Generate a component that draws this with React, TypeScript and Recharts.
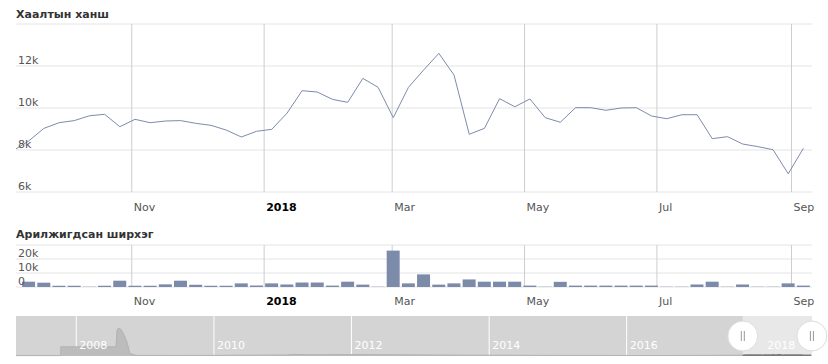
import {
  Area,
  AreaChart,
  Bar,
  BarChart,
  CartesianGrid,
  Line,
  LineChart,
  ReferenceArea,
  ReferenceDot,
  XAxis,
  YAxis,
} from 'recharts';

const DAY = 86_400_000;

// weekly data, week start (Monday)
const weekStarts = [
  '2017-09-04', '2017-09-11', '2017-09-18', '2017-09-25', '2017-10-02', '2017-10-09', '2017-10-16',
  '2017-10-23', '2017-10-30', '2017-11-06', '2017-11-13', '2017-11-20', '2017-11-27', '2017-12-04',
  '2017-12-11', '2017-12-18', '2017-12-25', '2018-01-01', '2018-01-08', '2018-01-15', '2018-01-22',
  '2018-01-29', '2018-02-05', '2018-02-12', '2018-02-19', '2018-02-26', '2018-03-05', '2018-03-12',
  '2018-03-19', '2018-03-26', '2018-04-02', '2018-04-09', '2018-04-16', '2018-04-23', '2018-04-30',
  '2018-05-07', '2018-05-14', '2018-05-21', '2018-05-28', '2018-06-04', '2018-06-11', '2018-06-18',
  '2018-06-25', '2018-07-02', '2018-07-09', '2018-07-16', '2018-07-23', '2018-07-30', '2018-08-06',
  '2018-08-13', '2018-08-20', '2018-08-27', '2018-09-03',
];

const closePrices = [
  7980, 8430, 9030, 9300, 9400, 9630, 9700, 9110, 9460, 9300, 9380, 9400, 9270, 9175, 8950, 8620,
  8890, 8985, 9750, 10825, 10760, 10410, 10270, 11410, 10985, 9540, 10985, 11810, 12600, 11570, 8750,
  9030, 10445, 10060, 10430, 9540, 9320, 10015, 10015, 9890, 10000, 10015, 9620, 9490, 9680, 9680,
  8540, 8635, 8285, 8160, 8015, 6870, 8080,
];

const volumes = [
  null, 3800, 3100, 900, 900, 200, 900, 4500, 900, 900, 1900, 4500, 1600, 900, 900, 2600, 1000, 2600,
  1800, 3200, 3200, 1000, 3800, 1700, 200, 26000, 2600, 9000, 1700, 2600, 5400, 3800, 3800, 3800,
  1000, 200, 3700, 1000, 1000, 1000, 1000, 1000, 1000, 200, 200, 1800, 3800, 200, 1800, 200, 200,
  2600, 1000,
];

const monthTicks = ['2017-11-01', '2018-01-01', '2018-03-01', '2018-05-01', '2018-07-01', '2018-09-01'];
const monthLabels = ['Nov', '2018', 'Mar', 'May', 'Jul', 'Sep'];

const priceTicks = [6000, 8000, 10000, 12000, 14000];
const priceLabels = ['6k', '8k', '10k', '12k', ''];
const volumeTicks = [0, 10000, 20000, 30000];
const volumeLabels = ['0', '10k', '20k', ''];

// full history shown in the scrollbar
const historyDates = [
  '2007-02-15', '2007-10-10', '2007-10-11', '2008-07-30', '2008-08-04', '2008-08-12', '2008-08-25',
  '2008-09-10', '2008-09-26', '2008-10-12', '2008-11-15', '2009-06-01', '2010-01-01', '2010-06-01',
  '2011-01-15', '2011-03-01', '2011-06-01', '2011-12-01', '2012-06-01', '2013-01-01', '2013-06-01',
  '2014-01-01', '2015-01-01', '2016-01-01', '2016-09-01', '2017-01-01', '2017-06-01', '2017-09-08',
];
const historyValues = [
  4000, 4000, 92000, 92000, 255000, 280000, 268000, 215000, 140000, 25000, 6000, 5000, 6000, 8000,
  10000, 16000, 12000, 14000, 13000, 11000, 9000, 8000, 6000, 5000, 5000, 6000, 7000, 8000,
];

const yearTicks = ['2008-01-01', '2010-01-01', '2012-01-01', '2014-01-01', '2016-01-01', '2018-01-01'];
const yearLabels = ['2008', '2010', '2012', '2014', '2016', '2018'];

const selection = ['2017-09-08T15:36:00Z', '2018-09-10T11:00:00Z'];
const scrollRange = ['2007-02-15', '2018-09-11'];

const weekRows = weekStarts.map((d, i) => ({
  t: Date.parse(d) + 3.5 * DAY,
  close: closePrices[i],
  volume: volumes[i],
}));
const historyRows = historyDates.map((d, i) => ({ t: Date.parse(d), v: historyValues[i] }));

const monthTs = monthTicks.map((d) => Date.parse(d));
const yearTs = yearTicks.map((d) => Date.parse(d));
const selDomain = selection.map((d) => Date.parse(d));
const scrollDomain = scrollRange.map((d) => Date.parse(d));

const FONT = '"DejaVu Sans", Verdana, sans-serif';
const LINE_COLOR = '#7d8bab';

function MonthTick({ x, y, payload, shift = 0 }: any) {
  const label = monthLabels[monthTs.indexOf(payload.value)];
  const year = label === '2018';
  return (
    <text
      x={x + 2}
      y={y + 19 + shift}
      fontSize={11}
      textAnchor="start"
      fill={year ? '#000' : '#555'}
      fontWeight={year ? 'bold' : 'normal'}
    >
      {label}
    </text>
  );
}

function makeValueTick(ticks: number[], labels: string[]) {
  return ({ x, y, payload }: any) => (
    <text x={x + 2} y={y - 2} fontSize={11} textAnchor="start" fill="#555">
      {labels[ticks.indexOf(payload.value)]}
    </text>
  );
}

const PriceTick = makeValueTick(priceTicks, priceLabels);
const VolumeTick = makeValueTick(volumeTicks, volumeLabels);

function YearTick({ x, y, payload }: any) {
  return (
    <text x={x + 3} y={y - 7} fontSize={11} textAnchor="start" fill="#fff">
      {yearLabels[yearTs.indexOf(payload.value)]}
    </text>
  );
}

function Grip({ cx, cy }: any) {
  return (
    <g>
      <circle cx={cx} cy={cy} r={15} fill="#fff" stroke="#dcdcdc" />
      <line x1={cx - 1.5} x2={cx - 1.5} y1={cy - 5} y2={cy + 5} stroke="#999" />
      <line x1={cx + 1.5} x2={cx + 1.5} y1={cy - 5} y2={cy + 5} stroke="#999" />
    </g>
  );
}

const titleStyle = {
  position: 'absolute' as const,
  left: 16,
  fontFamily: FONT,
  fontSize: 11,
  fontWeight: 'bold',
  lineHeight: '13px',
  color: '#333',
};

export default function App() {
  return (
    <div style={{ position: 'absolute', left: 0, top: 0, width: 828, height: 364, fontFamily: FONT, background: '#fff' }}>
      <div style={{ ...titleStyle, top: 8 }}>Хаалтын ханш</div>
      <div style={{ ...titleStyle, top: 228 }}>Арилжигдсан ширхэг</div>

      <div style={{ position: 'absolute', left: 0, top: 0 }}>
        <LineChart width={828} height={220} data={weekRows} margin={{ top: 24, right: 16, bottom: 0, left: 15 }}>
          <CartesianGrid vertical={false} stroke="#e4e4e4" syncWithTicks />
          <CartesianGrid horizontal={false} stroke="#cdcdcd" syncWithTicks />
          <XAxis
            type="number"
            dataKey="t"
            domain={selDomain}
            allowDataOverflow
            ticks={monthTs}
            interval={0}
            height={28}
            axisLine={false}
            tickLine={false}
            tickSize={0}
            tickMargin={0}
            tick={<MonthTick />}
          />
          <YAxis
            width={1}
            domain={[6000, 14000]}
            ticks={priceTicks}
            interval={0}
            axisLine={false}
            tickLine={false}
            tickSize={0}
            tickMargin={0}
            tick={<PriceTick />}
          />
          <Line type="linear" dataKey="close" stroke={LINE_COLOR} strokeWidth={1} dot={false} isAnimationActive={false} />
        </LineChart>
      </div>

      <div style={{ position: 'absolute', left: 0, top: 240 }}>
        <BarChart width={828} height={75} data={weekRows} margin={{ top: 5, right: 16, bottom: 0, left: 15 }}>
          <CartesianGrid vertical={false} stroke="#e4e4e4" syncWithTicks />
          <CartesianGrid horizontal={false} stroke="#cdcdcd" syncWithTicks />
          <XAxis
            type="number"
            dataKey="t"
            domain={selDomain}
            allowDataOverflow
            ticks={monthTs}
            interval={0}
            height={28}
            axisLine={false}
            tickLine={false}
            tickSize={0}
            tickMargin={0}
            tick={<MonthTick shift={-1} />}
          />
          <YAxis
            width={1}
            domain={[0, 30000]}
            ticks={volumeTicks}
            interval={0}
            axisLine={false}
            tickLine={false}
            tickSize={0}
            tickMargin={0}
            tick={<VolumeTick />}
          />
          <Bar dataKey="volume" fill={LINE_COLOR} barSize={13} isAnimationActive={false} />
        </BarChart>
      </div>

      <div style={{ position: 'absolute', left: 0, top: 316 }}>
        <AreaChart width={828} height={41} data={historyRows} margin={{ top: 0, right: 16, bottom: 0, left: 16 }}>
          <CartesianGrid horizontal={false} fill="#d4d4d4" fillOpacity={1} stroke="#fff" syncWithTicks />
          <ReferenceArea x1={selDomain[0]} x2={selDomain[1]} fill="#e8e8e8" fillOpacity={1} stroke="none" />
          <XAxis
            type="number"
            dataKey="t"
            domain={scrollDomain}
            allowDataOverflow
            ticks={yearTs}
            interval={0}
            height={1}
            axisLine={false}
            tickLine={false}
            tickSize={0}
            tickMargin={0}
            tick={<YearTick />}
          />
          <YAxis hide domain={[0, 400000]} />
          <Area type="linear" dataKey="v" stroke="#b3b3b3" fill="#bcbcbc" fillOpacity={1} isAnimationActive={false} />
          <Area
            type="linear"
            data={weekRows}
            dataKey="close"
            stroke="#7a7a7a"
            strokeWidth={1.5}
            fill="#7a7a7a"
            fillOpacity={1}
            isAnimationActive={false}
          />
          <ReferenceDot x={selDomain[0]} y={200000} shape={<Grip />} />
          <ReferenceDot x={selDomain[1]} y={200000} shape={<Grip />} />
        </AreaChart>
      </div>
    </div>
  );
}
